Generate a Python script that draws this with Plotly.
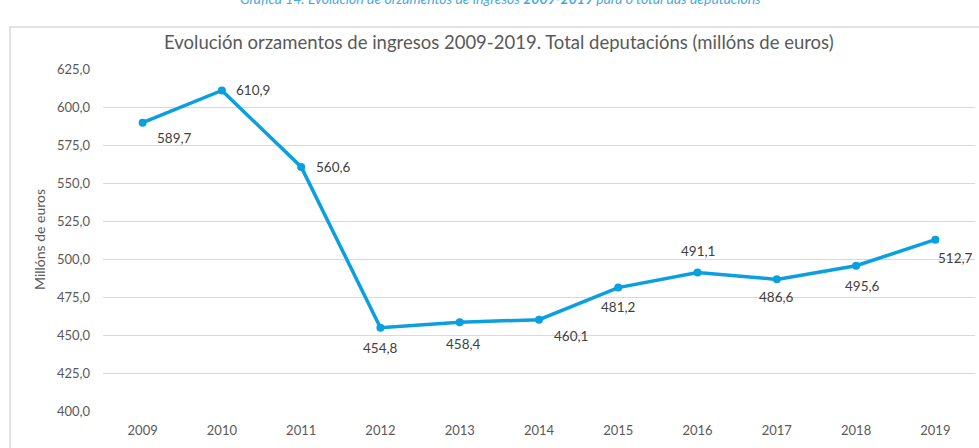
import plotly.graph_objects as go

years = ["2009", "2010", "2011", "2012", "2013", "2014", "2015", "2016", "2017", "2018", "2019"]
values = [589.7, 610.9, 560.6, 454.8, 458.4, 460.1, 481.2, 491.1, 486.6, 495.6, 512.7]
y_ticks = [400, 425, 450, 475, 500, 525, 550, 575, 600, 625]

# label offsets in pixels (style, not data)
label_dx = [32, 31, 32, 0, 4, 32, 0, 0, 0, 6, 20]
label_dy = [15, 0, 0, 20, 22, 16, 19, -22, 18, 20, 18]

FONT = "Lato"
GREY = "#595959"
BLUE = "#0a9fdf"

fig = go.Figure()
fig.add_trace(go.Scatter(
    x=years, y=values, mode="lines+markers",
    line=dict(color=BLUE, width=3.5),
    marker=dict(color=BLUE, size=8),
    hoverinfo="skip", showlegend=False,
))

for i, (v, dx, dy) in enumerate(zip(values, label_dx, label_dy)):
    fig.add_annotation(
        x=i, y=v, xref="x", yref="y", text=f"{v:.1f}".replace(".", ","), showarrow=False,
        xanchor="center", yanchor="middle",
        xshift=dx, yshift=-dy, font=dict(family=FONT, size=13.5, color="#404040"),
    )

L, R, T, B = 103, 4, 69, 37
W, H = 979, 448
pw, ph = W - L - R, H - T - B

def px(x):
    return (x - L) / pw

def py(y):
    return (H - B - y) / ph

fig.add_shape(type="rect", xref="paper", yref="paper",
              x0=px(10), x1=px(990), y0=py(470), y1=py(27),
              line=dict(color="#d9d9d9", width=1.5), fillcolor="rgba(0,0,0,0)", layer="below")

fig.add_annotation(
    xref="paper", yref="paper", x=px(500), y=py(-1), xanchor="center", yanchor="middle",
    text="<i>Gráfica 14. Evolución de orzamentos de ingresos <b>2009-2019</b> para o total das deputacións</i>",
    showarrow=False, font=dict(family=FONT, size=14, color="#4aa8e0"),
)

fig.add_annotation(
    xref="paper", yref="paper", x=px(499), y=py(42), xanchor="center", yanchor="middle",
    text="Evolución orzamentos de ingresos 2009-2019. Total deputacións (millóns de euros)",
    showarrow=False, font=dict(family=FONT, size=18.5, color=GREY),
)

fig.add_annotation(
    xref="paper", yref="paper", x=px(39), y=py(240), xanchor="center", yanchor="middle",
    text="Millóns de euros", textangle=-90,
    showarrow=False, font=dict(family=FONT, size=14, color=GREY),
)

fig.update_layout(
    width=W, height=H,
    margin=dict(l=L, r=R, t=T, b=B),
    paper_bgcolor="white", plot_bgcolor="white",
    font=dict(family=FONT, size=13, color=GREY),
    xaxis=dict(type="category", range=[-0.5, 10.5], showgrid=False, showline=False,
               ticks="", ticklabelstandoff=10,
               tickfont=dict(size=13, color=GREY), fixedrange=True),
    yaxis=dict(range=[400, 625], tickvals=y_ticks,
               ticktext=[f"{t:.1f}".replace(".", ",") for t in y_ticks],
               showgrid=True, gridcolor="#d9d9d9", gridwidth=1, zeroline=False,
               showline=False, ticks="", ticklabelstandoff=12,
               tickfont=dict(size=13, color=GREY), fixedrange=True),
)

fig.write_html("out.html", config={"displayModeBar": False},
               post_script="document.body.style.margin='0';document.body.style.overflow='hidden';")
